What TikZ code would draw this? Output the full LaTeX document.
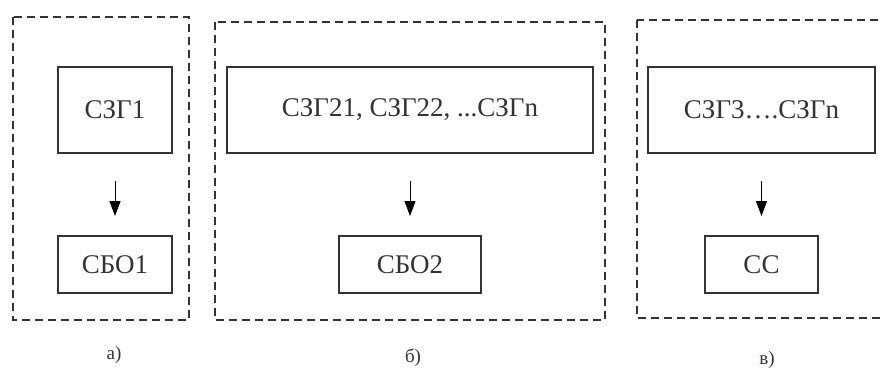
\documentclass[tikz,border=0pt]{standalone}
\usepackage{fontspec}
\setmainfont{Liberation Serif}
\usepackage{tikz}
\usetikzlibrary{arrows.meta}
\definecolor{qqgray}{rgb}{0.2,0.2,0.2}
\begin{document}
\begin{tikzpicture}[line cap=butt,line join=miter,>={Triangle[length=15pt,width=11pt]},x=1pt,y=-1pt]
\useasboundingbox (0,0) rectangle (881,378);
\clip (0,0) rectangle (881,378);
\tikzset{frame/.style={draw=qqgray,line width=2pt,dash pattern=on 8pt off 5pt},
  blok/.style={draw=qqgray,line width=2pt,text=qqgray,inner sep=0pt,font=\fontsize{27}{32}\selectfont},
  strelka/.style={->,line width=1pt,shorten <=27pt,shorten >=19pt}}
\draw [frame] (13,17) rectangle (189,320);
\draw [frame] (215,22) rectangle (605,320);
\draw [frame] (637,20) rectangle (895,318);
\node [blok,minimum width=114pt,minimum height=86pt] (szg1) at (115,110) {СЗГ1};
\node [blok,minimum width=366pt,minimum height=86pt] (szg2) at (410,110) {СЗГ21, СЗГ22, ...СЗГn};
\node [blok,minimum width=227pt,minimum height=86pt] (szg3) at (761.5,110) {СЗГ3….СЗГn};
\node [blok,minimum width=114pt,minimum height=57pt] (sbo1) at (115,264.5) {СБО1};
\node [blok,minimum width=142pt,minimum height=57pt] (sbo2) at (410,264.5) {СБО2};
\node [blok,minimum width=113pt,minimum height=57pt] (ss) at (761.5,264.5) {СС};
\draw [strelka] (szg1) -- (sbo1);
\draw [strelka] (szg2) -- (sbo2);
\draw [strelka] (szg3) -- (ss);
\begin{scope}[font=\fontsize{19}{22}\selectfont,text=qqgray]
\node (la) at (114,355) {а)};
\node (lb) at (413,358) {б)};
\node (lv) at (767,360) {в)};
\end{scope}
\end{tikzpicture}
\end{document}
